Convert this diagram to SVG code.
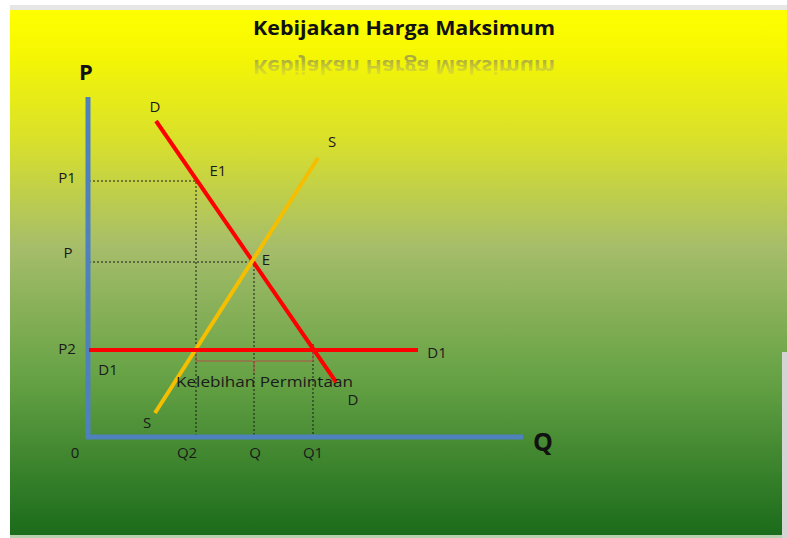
<svg xmlns="http://www.w3.org/2000/svg" width="787" height="538" viewBox="0 0 787 538">
  <defs>
    <linearGradient id="bg" x1="0" y1="0" x2="0" y2="1">
      <stop offset="0" stop-color="#ffff00"/>
      <stop offset="0.08" stop-color="#f6f702"/>
      <stop offset="0.25" stop-color="#d8e02c"/>
      <stop offset="0.45" stop-color="#a6bd6a"/>
      <stop offset="0.7" stop-color="#66a245"/>
      <stop offset="1" stop-color="#1a6b1a"/>
    </linearGradient>
    <linearGradient id="refl" gradientUnits="userSpaceOnUse" x1="0" y1="35" x2="0" y2="20">
      <stop offset="0" stop-color="#8c8c55" stop-opacity="0.7"/>
      <stop offset="1" stop-color="#b0b070" stop-opacity="0.25"/>
    </linearGradient>
  </defs>
  <style>
    .lbl { font-family: "Open Sans", "Liberation Sans", sans-serif; font-size: 15px; fill: #1a1a1a; }
    .ax { font-family: "Open Sans", "Liberation Sans", sans-serif; font-weight: bold; fill: #111; }
    .axis { stroke: #4f81bd; stroke-width: 5; fill: none; }
    .dem { stroke: #ff0000; stroke-width: 4; fill: none; }
    .sup { stroke: #f5bf00; stroke-width: 4; fill: none; }
    .dash { stroke: #1a1a1a; stroke-width: 1; stroke-dasharray: 2 2; fill: none; }
  </style>

  <rect x="0" y="0" width="787" height="538" fill="#ffffff"/>
  <rect x="10" y="5" width="777" height="6" fill="#e6e6e6"/>
  <rect x="10" y="10" width="777" height="526" fill="url(#bg)"/>
  <rect x="782" y="352" width="5" height="186" fill="#d4d4d4"/>
  <rect x="10" y="535" width="772" height="3" fill="#b8d0b0"/>

  <g id="title">
    <text x="404" y="35" text-anchor="middle" class="ax" font-size="19" textLength="302" lengthAdjust="spacingAndGlyphs">Kebijakan Harga Maksimum</text>
    <text x="404" y="35" text-anchor="middle" font-family="Open Sans, Liberation Sans, sans-serif" font-weight="bold" font-size="19" textLength="302" lengthAdjust="spacingAndGlyphs" fill="url(#refl)" transform="translate(0,95) scale(1,-1)">Kebijakan Harga Maksimum</text>
  </g>

  <g id="connectors">
    <polyline class="dash" points="89,181 196,181 196,437"/>
    <polyline class="dash" points="89,262 254,262 254,437"/>
    <line class="dash" x1="313" y1="344" x2="313" y2="437"/>
    <path d="M196,352 L196,361 L252,361 Q254,361 254,364 L254,373 M254,364 Q254,361 256,361 L313,361 L313,352" fill="none" stroke="#b0504a" stroke-width="1"/>
    <polyline class="axis" points="88,97 88,437 523,437"/>
    <line id="demand" class="dem" x1="156" y1="121" x2="336" y2="382"/>
    <line id="supply" class="sup" x1="155" y1="413" x2="318" y2="158"/>
    <line id="demand-d1" class="dem" x1="89" y1="350" x2="418" y2="350"/>
  </g>

  <g id="axis-labels">
    <text x="86" y="80" class="ax" font-size="22" text-anchor="middle">P</text>
    <text x="543" y="451" class="ax" font-size="25" text-anchor="middle">Q</text>
  </g>

  <g id="price-labels">
    <text x="67" y="183" class="lbl" text-anchor="middle">P1</text>
    <text x="68" y="258" class="lbl" text-anchor="middle">P</text>
    <text x="67" y="354" class="lbl" text-anchor="middle">P2</text>
  </g>

  <g id="curve-labels">
    <text x="155" y="112" class="lbl" text-anchor="middle">D</text>
    <text x="332" y="147" class="lbl" text-anchor="middle">S</text>
    <text x="218" y="176" class="lbl" text-anchor="middle">E1</text>
    <text x="266" y="265" class="lbl" text-anchor="middle">E</text>
    <text x="108" y="375" class="lbl" text-anchor="middle">D1</text>
    <text x="437" y="358" class="lbl" text-anchor="middle">D1</text>
    <text x="353" y="405" class="lbl" text-anchor="middle">D</text>
    <text x="147" y="428" class="lbl" text-anchor="middle">S</text>
    <text x="176" y="387" class="lbl" font-size="16" textLength="177" lengthAdjust="spacingAndGlyphs">Kelebihan Permintaan</text>
  </g>

  <g id="quantity-labels">
    <text x="75" y="458" class="lbl" text-anchor="middle">0</text>
    <text x="187" y="458" class="lbl" text-anchor="middle">Q2</text>
    <text x="255" y="458" class="lbl" text-anchor="middle">Q</text>
    <text x="313" y="458" class="lbl" text-anchor="middle">Q1</text>
  </g>
</svg>
